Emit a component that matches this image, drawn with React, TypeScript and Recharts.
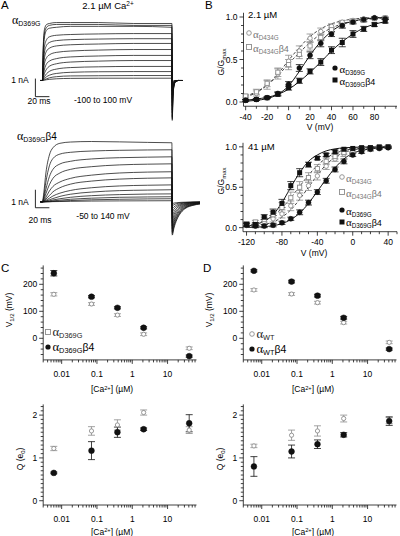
import React from 'react';
import { ComposedChart, LineChart, Line, Scatter, XAxis, YAxis, ErrorBar, ReferenceLine } from 'recharts';

const SANS = '"Liberation Sans", Arial, Helvetica, sans-serif';
const SERIF = '"Liberation Serif", "Times New Roman", serif';
const INK = '#111';
const GREY = '#8c8c8c';

// ---------------- Panel A : current traces (nA vs ms) ----------------
const tPulseTop = [-3, 0, 1, 3, 6, 10, 20, 40, 80, 130, 185];
const tTailTop = [185.5, 186.5, 188, 190, 194, 200];
const iPulseTop = [
  [0, 0, 1.6, 2.7, 2.95, 3.0, 3.05, 3.05, 3.05, 3.0, 3.0],
  [0, 0, 1.4, 2.5, 2.8, 2.9, 2.95, 2.95, 2.95, 2.9, 2.9],
  [0, 0, 1.2, 2.3, 2.65, 2.75, 2.8, 2.85, 2.85, 2.85, 2.8],
  [0, 0, 0.9, 1.8, 2.15, 2.3, 2.38, 2.42, 2.45, 2.47, 2.47],
  [0, 0, 0.7, 1.5, 1.85, 2.0, 2.1, 2.15, 2.18, 2.2, 2.2],
  [0, 0, 0.5, 1.2, 1.55, 1.7, 1.82, 1.88, 1.92, 1.95, 1.95],
  [0, 0, 0.35, 0.9, 1.2, 1.35, 1.48, 1.55, 1.6, 1.63, 1.63],
  [0, 0, 0.22, 0.6, 0.88, 1.02, 1.15, 1.24, 1.29, 1.32, 1.32],
  [0, 0, 0.12, 0.38, 0.6, 0.75, 0.88, 0.97, 1.02, 1.05, 1.05],
  [0, 0, 0.06, 0.2, 0.36, 0.48, 0.6, 0.68, 0.72, 0.74, 0.74],
  [0, 0, 0.03, 0.1, 0.2, 0.28, 0.37, 0.43, 0.46, 0.47, 0.47],
  [0, 0, 0.01, 0.04, 0.09, 0.14, 0.2, 0.24, 0.25, 0.26, 0.26],
  [0, 0, 0, 0.02, 0.04, 0.06, 0.09, 0.11, 0.12, 0.12, 0.12],
];
const iTailTop = [
  [-2.1, -0.9, -0.3, -0.08, 0, 0],
  [-2.0, -0.85, -0.28, -0.07, 0, 0],
  [-1.9, -0.8, -0.26, -0.07, 0, 0],
  [-1.7, -0.72, -0.23, -0.06, 0, 0],
  [-1.55, -0.65, -0.21, -0.05, 0, 0],
  [-1.35, -0.57, -0.18, -0.05, 0, 0],
  [-1.15, -0.48, -0.16, -0.04, 0, 0],
  [-0.95, -0.4, -0.13, -0.03, 0, 0],
  [-0.75, -0.32, -0.1, -0.03, 0, 0],
  [-0.55, -0.23, -0.07, -0.02, 0, 0],
  [-0.35, -0.15, -0.05, -0.01, 0, 0],
  [-0.2, -0.08, -0.03, -0.01, 0, 0],
  [-0.1, -0.04, -0.01, 0, 0, 0],
];
const tPulseBot = [-3, 0, 2, 5, 10, 15, 25, 40, 70, 110, 150, 185];
const tTailBot = [185.5, 188, 192, 198, 205, 215, 226];
const iPulseBot = [
  [0, 0, 0.5, 1.6, 2.6, 3.0, 3.25, 3.32, 3.35, 3.33, 3.3, 3.28],
  [0, 0, 0.3, 1.1, 2.0, 2.4, 2.65, 2.75, 2.82, 2.86, 2.88, 2.89],
  [0, 0, 0.2, 0.7, 1.4, 1.8, 2.1, 2.25, 2.38, 2.45, 2.48, 2.5],
  [0, 0, 0.1, 0.45, 0.95, 1.3, 1.6, 1.8, 1.95, 2.05, 2.09, 2.11],
  [0, 0, 0.05, 0.25, 0.6, 0.85, 1.1, 1.3, 1.48, 1.6, 1.65, 1.67],
  [0, 0, 0.03, 0.15, 0.35, 0.55, 0.78, 0.98, 1.15, 1.26, 1.31, 1.33],
  [0, 0, 0.02, 0.08, 0.2, 0.32, 0.48, 0.63, 0.78, 0.88, 0.92, 0.94],
  [0, 0, 0.01, 0.04, 0.11, 0.18, 0.3, 0.42, 0.54, 0.62, 0.65, 0.67],
  [0, 0, 0, 0.02, 0.05, 0.1, 0.17, 0.25, 0.34, 0.4, 0.43, 0.44],
  [0, 0, 0, 0.01, 0.03, 0.05, 0.09, 0.14, 0.2, 0.25, 0.27, 0.28],
  [0, 0, 0, 0, 0.01, 0.02, 0.04, 0.07, 0.11, 0.14, 0.16, 0.17],
  [0, 0, 0, 0, 0, 0.01, 0.015, 0.025, 0.04, 0.05, 0.055, 0.06],
];
const iTailBot = [
  [-1.85, -1.45, -1.0, -0.6, -0.35, -0.2, -0.12],
  [-1.75, -1.35, -0.92, -0.55, -0.32, -0.18, -0.1],
  [-1.65, -1.25, -0.85, -0.5, -0.3, -0.16, -0.09],
  [-1.5, -1.12, -0.75, -0.44, -0.26, -0.14, -0.08],
  [-1.35, -1.0, -0.66, -0.38, -0.22, -0.12, -0.07],
  [-1.15, -0.85, -0.55, -0.32, -0.18, -0.1, -0.06],
  [-0.95, -0.7, -0.45, -0.26, -0.15, -0.08, -0.05],
  [-0.75, -0.55, -0.35, -0.2, -0.12, -0.06, -0.04],
  [-0.55, -0.4, -0.26, -0.15, -0.09, -0.05, -0.03],
  [-0.38, -0.28, -0.18, -0.1, -0.06, -0.03, -0.02],
  [-0.22, -0.16, -0.1, -0.06, -0.04, -0.02, -0.01],
  [-0.1, -0.07, -0.05, -0.03, -0.02, -0.01, 0],
];

// ---------------- Panel B : G/Gmax vs V ----------------
const vB21 = [-40, -30, -20, -10, 0, 10, 20, 30, 40, 50, 60, 70, 80, 90];
const g21_D369G = [0.02, 0.03, 0.05, 0.1, 0.21, 0.4, 0.55, 0.69, 0.8, 0.9, 0.94, 0.97, 0.99, 0.98];
const e21_D369G = [0.01, 0.01, 0.01, 0.02, 0.03, 0.04, 0.04, 0.04, 0.03, 0.03, 0.02, 0.02, 0.01, 0.01];
const g21_D369Gb4 = [0.02, 0.03, 0.05, 0.09, 0.17, 0.25, 0.36, 0.47, 0.61, 0.7, 0.8, 0.86, 0.91, 0.95];
const e21_D369Gb4 = [0.01, 0.01, 0.01, 0.02, 0.03, 0.03, 0.03, 0.04, 0.04, 0.05, 0.04, 0.03, 0.02, 0.02];
const g21_D434G = [0.05, 0.1, 0.2, 0.33, 0.48, 0.6, 0.75, 0.83, 0.89, 0.94, 0.96, 0.98, 0.99, 0.99];
const e21_D434G = [0.02, 0.03, 0.05, 0.06, 0.07, 0.06, 0.05, 0.04, 0.03, 0.02, 0.02, 0.01, 0.01, 0.01];
const g21_D434Gb4 = [0.07, 0.12, 0.22, 0.35, 0.44, 0.56, 0.66, 0.76, 0.85, 0.9, 0.94, 0.96, 0.98, 0.99];
const e21_D434Gb4 = [0.02, 0.03, 0.04, 0.05, 0.06, 0.05, 0.05, 0.04, 0.03, 0.03, 0.02, 0.02, 0.01, 0.01];
const fit21_D369G = [0.01, 0.02, 0.04, 0.09, 0.19, 0.36, 0.55, 0.71, 0.83, 0.91, 0.95, 0.975, 0.988, 0.994];
const fit21_D369Gb4 = [0.02, 0.035, 0.055, 0.09, 0.15, 0.24, 0.35, 0.47, 0.6, 0.71, 0.8, 0.87, 0.915, 0.945];
const fit21_D434G = [0.06, 0.11, 0.2, 0.33, 0.49, 0.64, 0.77, 0.86, 0.92, 0.955, 0.975, 0.987, 0.993, 0.996];
const fit21_D434Gb4 = [0.07, 0.12, 0.2, 0.31, 0.45, 0.58, 0.7, 0.8, 0.87, 0.92, 0.95, 0.97, 0.98, 0.99];

const vB41 = [-120, -110, -100, -90, -80, -70, -60, -50, -40, -30, -20, -10, 0, 10, 20, 30, 40];
const g41_D369G = [0.03, 0.02, 0.02, 0.03, 0.06, 0.11, 0.19, 0.31, 0.44, 0.58, 0.72, 0.82, 0.9, 0.94, 0.97, 0.98, 0.99];
const e41_D369G = [0.02, 0.02, 0.02, 0.02, 0.02, 0.02, 0.03, 0.03, 0.03, 0.03, 0.03, 0.03, 0.02, 0.02, 0.02, 0.01, 0.01];
const g41_D369Gb4 = [0.04, 0.04, 0.13, 0.19, 0.3, 0.52, 0.68, 0.78, 0.86, 0.9, 0.94, 0.97, 0.98, 0.99, 0.99, 1.0, 1.0];
const e41_D369Gb4 = [0.02, 0.02, 0.03, 0.04, 0.05, 0.05, 0.05, 0.03, 0.02, 0.02, 0.02, 0.01, 0.01, 0.01, 0.01, 0.01, 0.01];
const g41_D434G = [0.03, 0.04, 0.07, 0.11, 0.17, 0.27, 0.4, 0.52, 0.64, 0.76, 0.85, 0.91, 0.95, 0.97, 0.98, 0.99, 0.99];
const e41_D434G = [0.02, 0.02, 0.03, 0.04, 0.05, 0.06, 0.06, 0.06, 0.05, 0.04, 0.03, 0.03, 0.02, 0.02, 0.01, 0.01, 0.01];
const g41_D434Gb4 = [0.05, 0.07, 0.1, 0.16, 0.25, 0.37, 0.5, 0.62, 0.73, 0.82, 0.88, 0.93, 0.96, 0.98, 0.99, 0.99, 1.0];
const e41_D434Gb4 = [0.02, 0.02, 0.03, 0.04, 0.06, 0.07, 0.07, 0.06, 0.05, 0.04, 0.03, 0.02, 0.02, 0.01, 0.01, 0.01, 0.01];
const fit41_D369G = [0.003, 0.006, 0.012, 0.025, 0.05, 0.1, 0.18, 0.3, 0.45, 0.6, 0.74, 0.85, 0.92, 0.955, 0.975, 0.987, 0.993];
const fit41_D369Gb4 = [0.02, 0.04, 0.08, 0.16, 0.31, 0.5, 0.68, 0.82, 0.9, 0.95, 0.975, 0.988, 0.994, 0.997, 0.998, 0.999, 1.0];
const fit41_D434G = [0.01, 0.02, 0.04, 0.07, 0.13, 0.22, 0.35, 0.5, 0.65, 0.78, 0.87, 0.93, 0.96, 0.98, 0.99, 0.995, 0.997];
const fit41_D434Gb4 = [0.03, 0.05, 0.09, 0.15, 0.24, 0.37, 0.51, 0.65, 0.77, 0.86, 0.92, 0.955, 0.975, 0.986, 0.992, 0.995, 0.997];

// ---------------- Panels C & D : V1/2 and Q vs [Ca2+] ----------------
const ca = [0.006, 0.07, 0.38, 2.1, 41];
const vhC_D369G = [163, 127, 86, 15, -37];
const evhC_D369G = [6, 5, 5, 5, 5];
const vhC_D369Gb4 = [241, 154, 113, 39, -66];
const evhC_D369Gb4 = [10, 4, 4, 4, 4];
const qC_D369G = [1.22, 1.63, 1.77, 2.06, 1.65];
const eqC_D369G = [0.05, 0.1, 0.12, 0.06, 0.08];
const qC_D369Gb4 = [0.65, 1.17, 1.6, 1.67, 1.81];
const eqC_D369Gb4 = [0.02, 0.21, 0.12, 0.03, 0.2];
const vhD_WT = [179, 164, 132, 58, -15];
const evhD_WT = [5, 5, 5, 5, 5];
const vhD_WTb4 = [250, 210, 158, 76, -40];
const evhD_WTb4 = [4, 5, 5, 5, 4];
const qD_WT = [1.28, 1.53, 1.63, 1.92, 1.87];
const eqD_WT = [0.04, 0.12, 0.12, 0.08, 0.07];
const qD_WTb4 = [0.8, 1.15, 1.32, 1.54, 1.86];
const eqD_WTb4 = [0.23, 0.15, 0.1, 0.05, 0.1];

// tick lists
const ticksB21x = [-40, -30, -20, -10, 0, 10, 20, 30, 40, 50, 60, 70, 80, 90, 100];
const majB21x = [-40, -20, 0, 20, 40, 60, 80];
const ticksB41x = [-120, -110, -100, -90, -80, -70, -60, -50, -40, -30, -20, -10, 0, 10, 20, 30, 40, 50];
const majB41x = [-120, -80, -40, 0, 40];
const ticksG = [0, 0.1, 0.2, 0.3, 0.4, 0.5, 0.6, 0.7, 0.8, 0.9, 1.0];
const majG = [0, 0.5, 1.0];
const ticksLog = [0.003, 0.004, 0.005, 0.006, 0.007, 0.008, 0.009, 0.01, 0.02, 0.03, 0.04, 0.05, 0.06, 0.07, 0.08, 0.09, 0.1, 0.2, 0.3, 0.4, 0.5, 0.6, 0.7, 0.8, 0.9, 1, 2, 3, 4, 5, 6, 7, 8, 9, 10, 20, 30, 40, 50, 60];
const majLog = [0.01, 0.1, 1, 10];
const ticksVh = [-60, -40, -20, 0, 20, 40, 60, 80, 100, 120, 140, 160, 180, 200, 220, 240, 260];
const majVh = [0, 100, 200];
const ticksQ = [0, 0.1, 0.2, 0.3, 0.4, 0.5, 0.6, 0.7, 0.8, 0.9, 1, 1.1, 1.2, 1.3, 1.4, 1.5, 1.6, 1.7, 1.8, 1.9, 2, 2.1, 2.2];
const majQ = [0, 1, 2];

// ---------------- helpers ----------------
const isMaj = (v: number, majors: number[]) => majors.some((m) => Math.abs(v - m) <= 1e-9 + 1e-6 * Math.abs(m));

const makeXTick = (majors: number[], fmt: (v: number) => string, off: number) => (p: any) => {
  const v = p.payload.value;
  const mj = isMaj(v, majors);
  return (
    <g>
      <line x1={p.x} x2={p.x} y1={p.y} y2={p.y + (mj ? 4 : 2.5)} stroke={INK} strokeWidth={0.8} />
      {mj ? (
        <text x={p.x} y={p.y + off} textAnchor="middle" fontSize={8.5} fontFamily={SANS} fill="#000">
          {fmt(v)}
        </text>
      ) : null}
    </g>
  );
};
const makeYTick = (majors: number[], fmt: (v: number) => string) => (p: any) => {
  const v = p.payload.value;
  const mj = isMaj(v, majors);
  return (
    <g>
      <line x1={p.x} x2={p.x - (mj ? 4 : 2.5)} y1={p.y} y2={p.y} stroke={INK} strokeWidth={0.8} />
      {mj ? (
        <text x={p.x - 6} y={p.y + 3} textAnchor="end" fontSize={8.5} fontFamily={SANS} fill="#000">
          {fmt(v)}
        </text>
      ) : null}
    </g>
  );
};

const pts = (xs: number[], ys: number[], es: number[]) => xs.map((x, i) => ({ x, y: ys[i], e: es[i] }));
const curve = (xs: number[], ys: number[]) => xs.map((x, i) => ({ x, y: ys[i] }));
const trace = (tp: number[], vp: number[], tt: number[], vt: number[]) => [
  ...tp.map((t, i) => ({ t, i: vp[i] })),
  ...tt.map((t, i) => ({ t, i: vt[i] })),
];

const fCircle = (r: number) => (p: any) => <circle cx={p.cx} cy={p.cy} r={r} fill={INK} stroke={INK} strokeWidth={0.5} />;
const oCircle = (r: number, c: string) => (p: any) => <circle cx={p.cx} cy={p.cy} r={r} fill="#fff" stroke={c} strokeWidth={0.9} />;
const fSquare = (s: number) => (p: any) => <rect x={p.cx - s / 2} y={p.cy - s / 2} width={s} height={s} fill={INK} />;
const oSquare = (s: number, c: string) => (p: any) => (
  <rect x={p.cx - s / 2} y={p.cy - s / 2} width={s} height={s} fill="#fff" stroke={c} strokeWidth={0.9} />
);

const axisLine = { stroke: INK, strokeWidth: 0.8 };

// ---------------- text helpers ----------------
const Sub = ({ children }: any) => <span style={{ fontSize: '0.7em', position: 'relative', top: '0.32em' }}>{children}</span>;
const Sup = ({ children }: any) => <span style={{ fontSize: '0.68em', position: 'relative', top: '-0.42em' }}>{children}</span>;

function T({ x, y, children, size = 8.5, anchor = 'start', color = '#000', rot = 0, family = SANS, weight = 400 }: any) {
  const tx = anchor === 'middle' ? '-50%' : anchor === 'end' ? '-100%' : '0%';
  return (
    <div
      style={{
        position: 'absolute',
        left: x,
        top: y,
        transform: `translate(${tx}, -50%)${rot ? ` rotate(${rot}deg)` : ''}`,
        whiteSpace: 'nowrap',
        fontSize: size,
        fontFamily: family,
        fontWeight: weight,
        color,
        lineHeight: 1,
      }}
    >
      {children}
    </div>
  );
}

const Alpha = ({ sub, b4, size = 10 }: any) => (
  <span style={{ fontSize: size }}>
    <span style={{ fontFamily: SERIF, fontSize: '1.2em' }}>α</span>
    <Sub>{sub}</Sub>
    {b4 ? <span>β4</span> : null}
  </span>
);

function Mark({ x, y, kind, color = INK }: any) {
  const s = 5;
  return (
    <svg style={{ position: 'absolute', left: x - 4, top: y - 4 }} width={8} height={8}>
      {kind === 'oc' && <circle cx={4} cy={4} r={2.3} fill="#fff" stroke={color} strokeWidth={0.9} />}
      {kind === 'fc' && <circle cx={4} cy={4} r={2.6} fill={INK} />}
      {kind === 'os' && <rect x={4 - s / 2} y={4 - s / 2} width={s} height={s} fill="#fff" stroke={color} strokeWidth={0.9} />}
      {kind === 'fs' && <rect x={4 - s / 2} y={4 - s / 2} width={s} height={s} fill={INK} />}
    </svg>
  );
}

// ---------------- chart pieces ----------------
function Traces({ left, top, width, height, yDomain, pulseT, pulse, tailT, tail, barTop, barBot }: any) {
  return (
    <div style={{ position: 'absolute', left, top }}>
      <LineChart width={width} height={height} margin={{ top: 0, right: 0, bottom: 0, left: 0 }}>
        <XAxis type="number" dataKey="t" domain={[-12, 226]} hide allowDataOverflow />
        <YAxis type="number" domain={yDomain} hide allowDataOverflow />
        {pulse.map((vp: number[], k: number) => (
          <Line
            key={k}
            data={trace(pulseT, vp, tailT, tail[k])}
            dataKey="i"
            type="monotone"
            dot={false}
            stroke={INK}
            strokeWidth={0.75}
            isAnimationActive={false}
          />
        ))}
        <ReferenceLine segment={[{ x: -10, y: barTop }, { x: -10, y: barBot }]} stroke={INK} strokeWidth={0.9} />
        <ReferenceLine segment={[{ x: -10, y: barBot }, { x: 10, y: barBot }]} stroke={INK} strokeWidth={0.9} />
      </LineChart>
    </div>
  );
}

function GV({ left, top, width, height, margin, xDomain, xTicks, xMaj, v, sets }: any) {
  return (
    <div style={{ position: 'absolute', left, top }}>
      <ComposedChart width={width} height={height} margin={margin}>
        <XAxis
          type="number"
          dataKey="x"
          domain={xDomain}
          ticks={xTicks}
          interval={0}
          tickLine={false}
          tickSize={0}
          tickMargin={0}
          height={20}
          axisLine={axisLine}
          tick={makeXTick(xMaj, (n) => String(n), 13.5)}
          allowDataOverflow
        />
        <YAxis
          type="number"
          dataKey="y"
          domain={[-0.05, 1.05]}
          ticks={ticksG}
          interval={0}
          tickLine={false}
          tickSize={0}
          tickMargin={0}
          width={30}
          axisLine={axisLine}
          tick={makeYTick(majG, (n) => n.toFixed(1))}
          allowDataOverflow
        />
        <Line data={curve(v, sets.fitOC)} dataKey="y" type="monotone" dot={false} stroke="#333" strokeWidth={0.9} strokeDasharray="3 2" isAnimationActive={false} />
        <Line data={curve(v, sets.fitOS)} dataKey="y" type="monotone" dot={false} stroke="#333" strokeWidth={0.9} strokeDasharray="3 2" isAnimationActive={false} />
        <Line data={curve(v, sets.fitFC)} dataKey="y" type="monotone" dot={false} stroke={INK} strokeWidth={1} isAnimationActive={false} />
        <Line data={curve(v, sets.fitFS)} dataKey="y" type="monotone" dot={false} stroke={INK} strokeWidth={1} isAnimationActive={false} />
        <Scatter data={pts(v, sets.oc, sets.eoc)} dataKey="y" shape={oCircle(2.2, GREY)} isAnimationActive={false}>
          <ErrorBar dataKey="e" direction="y" width={3.5} stroke={GREY} strokeWidth={0.8} />
        </Scatter>
        <Scatter data={pts(v, sets.os, sets.eos)} dataKey="y" shape={oSquare(4.2, GREY)} isAnimationActive={false}>
          <ErrorBar dataKey="e" direction="y" width={3.5} stroke={GREY} strokeWidth={0.8} />
        </Scatter>
        <Scatter data={pts(v, sets.fc, sets.efc)} dataKey="y" shape={fCircle(2.5)} isAnimationActive={false}>
          <ErrorBar dataKey="e" direction="y" width={3.5} stroke={INK} strokeWidth={0.8} />
        </Scatter>
        <Scatter data={pts(v, sets.fs, sets.efs)} dataKey="y" shape={fSquare(5)} isAnimationActive={false}>
          <ErrorBar dataKey="e" direction="y" width={3.5} stroke={INK} strokeWidth={0.8} />
        </Scatter>
      </ComposedChart>
    </div>
  );
}

function CaPlot({ left, top, height, margin, xh, xoff, yDomain, yTicks, yMaj, open, eOpen, filled, eFilled }: any) {
  return (
    <div style={{ position: 'absolute', left, top }}>
      <ComposedChart width={200} height={height} margin={margin}>
        <XAxis
          type="number"
          dataKey="x"
          scale="log"
          domain={[0.003, 66]}
          ticks={ticksLog}
          interval={0}
          tickLine={false}
          tickSize={0}
          tickMargin={0}
          height={xh}
          axisLine={axisLine}
          tick={makeXTick(majLog, (n) => String(n), xoff)}
          allowDataOverflow
        />
        <YAxis
          type="number"
          dataKey="y"
          domain={yDomain}
          ticks={yTicks}
          interval={0}
          tickLine={false}
          tickSize={0}
          tickMargin={0}
          width={30}
          axisLine={axisLine}
          tick={makeYTick(yMaj, (n) => String(n))}
          allowDataOverflow
        />
        <Scatter data={pts(ca, open, eOpen)} dataKey="y" shape={oCircle(2.1, GREY)} isAnimationActive={false}>
          <ErrorBar dataKey="e" direction="y" width={3.5} stroke={GREY} strokeWidth={0.8} />
        </Scatter>
        <Scatter data={pts(ca, filled, eFilled)} dataKey="y" shape={fCircle(2.9)} isAnimationActive={false}>
          <ErrorBar dataKey="e" direction="y" width={3.5} stroke={INK} strokeWidth={0.8} />
        </Scatter>
      </ComposedChart>
    </div>
  );
}

const CaTitle = () => (
  <span>
    [Ca<Sup>2+</Sup>] (µM)
  </span>
);

export default function App() {
  return (
    <div
      style={{
        position: 'fixed',
        left: 0,
        top: 0,
        width: 400,
        height: 536,
        background: '#fff',
        overflow: 'hidden',
        fontFamily: SANS,
      }}
    >
      {/* ---------- Panel A ---------- */}
      <Traces
        left={33.6}
        top={13.5}
        width={166.6}
        height={110.2}
        yDomain={[-2.3, 3.5]}
        pulseT={tPulseTop}
        pulse={iPulseTop}
        tailT={tTailTop}
        tail={iTailTop}
        barTop={0.1}
        barBot={-0.85}
      />
      <Traces
        left={33.6}
        top={137.2}
        width={166.6}
        height={100.8}
        yDomain={[-2.0, 3.6]}
        pulseT={tPulseBot}
        pulse={iPulseBot}
        tailT={tTailBot}
        tail={iTailBot}
        barTop={0.67}
        barBot={-0.33}
      />
      <T x={1} y={6} size={11.5}>A</T>
      <T x={108} y={6} size={9.5} anchor="middle">
        2.1 µM Ca<Sup>2+</Sup>
      </T>
      <T x={12} y={20}>
        <Alpha sub="D369G" size={10} />
      </T>
      <T x={17} y={136}>
        <Alpha sub="D369G" b4 size={10} />
      </T>
      <T x={20} y={80} anchor="middle">1 nA</T>
      <T x={39} y={101} anchor="middle">20 ms</T>
      <T x={103} y={100} anchor="middle">-100 to 100 mV</T>
      <T x={20} y={202} anchor="middle">1 nA</T>
      <T x={40} y={220} anchor="middle">20 ms</T>
      <T x={103} y={216} anchor="middle">-50 to 140 mV</T>

      {/* ---------- Panel B ---------- */}
      <GV
        left={200}
        top={0}
        width={200}
        height={135}
        margin={{ top: 12.75, right: 3, bottom: 8.75, left: 13.5 }}
        xDomain={[-42, 101]}
        xTicks={ticksB21x}
        xMaj={majB21x}
        v={vB21}
        sets={{
          fc: g21_D369G, efc: e21_D369G, fs: g21_D369Gb4, efs: e21_D369Gb4,
          oc: g21_D434G, eoc: e21_D434G, os: g21_D434Gb4, eos: e21_D434Gb4,
          fitFC: fit21_D369G, fitFS: fit21_D369Gb4, fitOC: fit21_D434G, fitOS: fit21_D434Gb4,
        }}
      />
      <GV
        left={200}
        top={140}
        width={200}
        height={120}
        margin={{ top: 2.8, right: 3, bottom: 8.3, left: 13 }}
        xDomain={[-124, 50]}
        xTicks={ticksB41x}
        xMaj={majB41x}
        v={vB41}
        sets={{
          fc: g41_D369G, efc: e41_D369G, fs: g41_D369Gb4, efs: e41_D369Gb4,
          oc: g41_D434G, eoc: e41_D434G, os: g41_D434Gb4, eos: e41_D434Gb4,
          fitFC: fit41_D369G, fitFS: fit41_D369Gb4, fitOC: fit41_D434G, fitOS: fit41_D434Gb4,
        }}
      />
      <T x={205} y={6} size={11.5}>B</T>
      <T x={248} y={15} size={9.5}>2.1 µM</T>
      <T x={248} y={147} size={9.5}>41 µM</T>
      <T x={221} y={62} anchor="middle" rot={-90}>
        G/G<Sub>max</Sub>
      </T>
      <T x={221} y={181} anchor="middle" rot={-90}>
        G/G<Sub>max</Sub>
      </T>
      <T x={320} y={127} anchor="middle">V (mV)</T>
      <T x={314} y={253} anchor="middle">V (mV)</T>
      <Mark x={249.3} y={33.3} kind="oc" color={GREY} />
      <T x={253} y={34} color="#777"><Alpha sub="D434G" size={9} /></T>
      <Mark x={249.3} y={46.7} kind="os" color={GREY} />
      <T x={253} y={47.5} color="#777"><Alpha sub="D434G" b4 size={9} /></T>
      <Mark x={335} y={68.3} kind="fc" />
      <T x={339.5} y={69} ><Alpha sub="D369G" size={9} /></T>
      <Mark x={335} y={80.3} kind="fs" />
      <T x={339.5} y={81} ><Alpha sub="D369G" b4 size={9} /></T>
      <Mark x={341.7} y={177.3} kind="oc" color={GREY} />
      <T x={346} y={178} color="#777"><Alpha sub="D434G" size={9} /></T>
      <Mark x={341.7} y={191.7} kind="os" color={GREY} />
      <T x={346} y={192.5} color="#777"><Alpha sub="D434G" b4 size={9} /></T>
      <Mark x={341.7} y={210} kind="fc" />
      <T x={346} y={210.7}><Alpha sub="D369G" size={9} /></T>
      <Mark x={341.7} y={221.7} kind="fs" />
      <T x={346} y={222.4}><Alpha sub="D369G" b4 size={9} /></T>

      {/* ---------- Panel C ---------- */}
      <CaPlot
        left={0}
        top={262}
        height={120}
        margin={{ top: 3.4, right: 3.5, bottom: 2.1, left: 13.2 }}
        xh={20}
        xoff={17.5}
        yDomain={[-80, 270]}
        yTicks={ticksVh}
        yMaj={majVh}
        open={vhC_D369G}
        eOpen={evhC_D369G}
        filled={vhC_D369Gb4}
        eFilled={evhC_D369Gb4}
      />
      <CaPlot
        left={0}
        top={400}
        height={126}
        margin={{ top: 4.4, right: 3.5, bottom: 3, left: 13.2 }}
        xh={18}
        xoff={16.5}
        yDomain={[-0.1, 2.25]}
        yTicks={ticksQ}
        yMaj={majQ}
        open={qC_D369G}
        eOpen={eqC_D369G}
        filled={qC_D369Gb4}
        eFilled={eqC_D369Gb4}
      />
      <T x={1} y={269} size={11.5}>C</T>
      <T x={8.5} y={310} anchor="middle" rot={-90}>
        V<Sub>1/2</Sub> (mV)
      </T>
      <T x={20} y={459} anchor="middle" rot={-90}>
        Q (e<Sub>0</Sub>)
      </T>
      <T x={112} y={389} anchor="middle"><CaTitle /></T>
      <T x={112} y={531.5} anchor="middle"><CaTitle /></T>
      <Mark x={48} y={331.7} kind="os" color={GREY} />
      <T x={52.5} y={331.5} color="#222"><Alpha sub="D369G" size={10.5} /></T>
      <Mark x={48} y={346.7} kind="fc" />
      <T x={52.5} y={346.5}><Alpha sub="D369G" b4 size={10.5} /></T>

      {/* ---------- Panel D ---------- */}
      <CaPlot
        left={200}
        top={262}
        height={120}
        margin={{ top: 3.4, right: 3.5, bottom: 2.1, left: 13.3 }}
        xh={20}
        xoff={17.5}
        yDomain={[-80, 270]}
        yTicks={ticksVh}
        yMaj={majVh}
        open={vhD_WT}
        eOpen={evhD_WT}
        filled={vhD_WTb4}
        eFilled={evhD_WTb4}
      />
      <CaPlot
        left={200}
        top={400}
        height={126}
        margin={{ top: 4.4, right: 3.5, bottom: 3, left: 13.3 }}
        xh={18}
        xoff={16.5}
        yDomain={[-0.1, 2.25]}
        yTicks={ticksQ}
        yMaj={majQ}
        open={qD_WT}
        eOpen={eqD_WT}
        filled={qD_WTb4}
        eFilled={eqD_WTb4}
      />
      <T x={203} y={269} size={11.5}>D</T>
      <T x={208.5} y={310} anchor="middle" rot={-90}>
        V<Sub>1/2</Sub> (mV)
      </T>
      <T x={220} y={459} anchor="middle" rot={-90}>
        Q (e<Sub>0</Sub>)
      </T>
      <T x={313} y={389} anchor="middle"><CaTitle /></T>
      <T x={313} y={531.5} anchor="middle"><CaTitle /></T>
      <Mark x={252} y={334} kind="oc" color={GREY} />
      <T x={256.5} y={334} color="#222"><Alpha sub="WT" size={10.5} /></T>
      <Mark x={252} y={349} kind="fc" />
      <T x={256.5} y={349}><Alpha sub="WT" b4 size={10.5} /></T>
    </div>
  );
}
